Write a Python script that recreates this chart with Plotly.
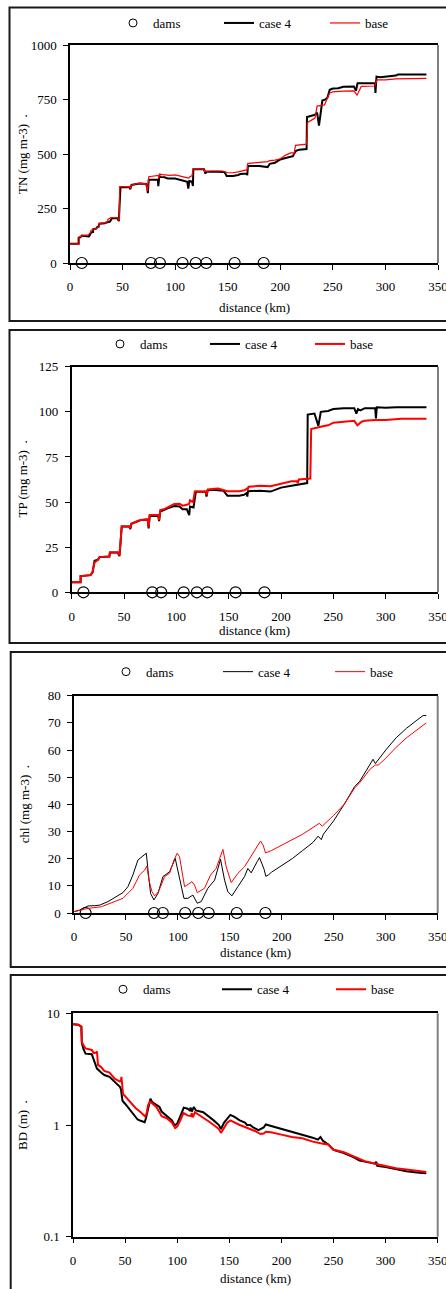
import plotly.graph_objects as go

W, H = 446, 1289
FONT = "Liberation Serif"

# ---------------- data (km, value) ----------------
dams_km = [11.2, 77, 85.5, 107, 119.6, 129.6, 156.6, 184.2]

tn_case4 = [(0,88),(8.2,88),(8.2,115),(10,118),(11,125),(17,125),(18,122),(19,130),(20,140),(22,142),(22,155),(25,158),(26,165),(27,165),(28,180),(33,182),(34,185),(38,190),(39,200),(40,205),(45,206),(46.5,192),(47,250),(48,348),(56.6,348),(57.3,338),(58.5,358),(62,360),(66,365),(72.4,363),(73.4,345),(74,320),(74.9,382),(83.5,383),(84,353),(85,400),(86,395),(90,393),(93,388),(100,388),(105,382),(108,378),(111.5,373),(112.5,341),(113.5,376),(116,373),(116.9,353),(117.3,430),(127.5,430),(128.8,410),(129.5,419),(140,419),(147,417),(149,399),(155,399),(160,404),(162,408),(168,410),(168.6,403),(169.2,445),(180,445),(188,440),(189,447),(190,455),(195,460),(200,475),(205,482),(210,490),(212,490),(213,500),(215,515),(218,520),(225,523),(225.4,670),(230,675),(233,680),(235,690),(236.8,630),(240,745),(243,750),(245,760),(247,795),(250,800),(255,802),(260,808),(270,810),(272,790),(273.5,825),(278,825),(290,825),(290.5,780),(291.5,855),(295,852),(300,855),(305,858),(310,860),(312,865),(339,865)]
tn_base = [(0,88),(8.6,88),(8.6,120),(11.4,122),(11.4,128),(17,128),(19.7,140),(20,150),(23,155),(25,160),(27.6,165),(27.6,182),(33,184),(36,190),(36,200),(39,208),(45,208),(46.8,195),(47.3,350),(56.6,350),(57.3,342),(58.5,358),(62,361),(66,366),(72.4,363),(73.8,330),(74.9,396),(80,400),(84,402),(84.5,388),(85,408),(88,405),(95,402),(100,404),(105,400),(110,393),(113,390),(114,396),(116,400),(117.2,432),(127.5,430),(128,420),(135,422),(145,422),(150,414),(155,414),(160,418),(165,425),(168.6,428),(169,456),(175,460),(180,462),(188,465),(190,470),(195,472),(200,478),(205,495),(210,505),(212,505),(213,498),(214.5,540),(220,542),(225,545),(226,645),(230,655),(233,665),(235,720),(240,722),(242,725),(247,780),(250,785),(260,788),(270,790),(273,770),(277,810),(290,812),(292,840),(300,840),(310,845),(339,847)]

tp_case4 = [(0,5.5),(8.5,5.5),(8.5,9),(18,9.5),(20,11),(21.8,17.5),(25,18),(26.6,19.5),(36,19.8),(36.5,22),(44,22),(45.6,20),(46.5,26),(47.8,36.5),(55,36.5),(56,35),(57,38),(63,39.5),(66,40),(72.6,40.4),(73.5,35.4),(74.5,42.3),(82.7,42.3),(83.5,39.5),(84.6,44.7),(88,45.5),(91.6,46.5),(98,47.8),(103,47.5),(106,46),(110,46),(112.3,42.8),(113,47.5),(116.4,47),(118.6,55.7),(128,55.7),(128.8,53),(130,56.6),(135,56.8),(145,56.3),(148.8,53.5),(160,53.5),(164.7,54),(167.3,55),(167.8,53),(168.5,56),(180,56.3),(190,55.8),(195,57),(200,58),(210,59),(220,60),(225,60.5),(225.5,98.5),(232,99),(235.7,92.2),(238,100),(245,100.5),(250,101.5),(260,102),(270,102),(272,99),(273.5,101.5),(276,100.8),(280,102),(290,102),(290.7,96.3),(291.5,102.5),(300,102.3),(310,102.5),(339,102.5)]
tp_base = [(0,5.5),(8.5,5.5),(8.5,9),(18,9.5),(20,11.5),(21.8,16.5),(25,18),(26.6,19.5),(36,19.8),(36.5,22),(44,22),(45.6,20.5),(47.8,36.5),(55,36.5),(56,35.5),(57,38),(63,39.5),(66,40),(72.6,40.4),(73.5,36),(74.5,42.8),(82.7,42.8),(83.5,40),(84.6,45.6),(88,46),(91.6,47),(98,48.9),(103,49),(106,48),(110,48.5),(112.3,49),(113,51),(116,50),(117.6,55.8),(128,55.8),(128.8,54),(130,57),(140,57.5),(148.8,56),(160,56),(165,56.5),(167.5,57.5),(168,56.5),(169,58.5),(180,59),(190,58.8),(200,60),(210,61.5),(215,61.5),(216,60.5),(217,62.5),(228,63),(228.8,90.5),(235,91.5),(240,92),(245,92.5),(250,94),(260,94.5),(270,95),(273,92.5),(277,94.5),(280,95),(290,95.5),(300,95.5),(310,96),(315,96.2),(339,96.2)]

chl_case4 = [(0,0.5),(5,1),(8.7,1.7),(13.5,2.6),(20,2.7),(24.7,2.9),(32.7,4.2),(42.3,6.6),(47.1,7.5),(51.9,9.7),(56.7,14),(61.5,19.5),(66.3,21),(69.6,22),(71.2,15.8),(73.7,7.2),(76.9,4.8),(80.8,7.2),(85.6,13.4),(92,15.2),(97.4,20.1),(101.6,12.1),(105.8,5.4),(109.6,5.4),(114.4,6.6),(118.6,3.6),(122.4,4.2),(128.8,9.1),(135.3,12.1),(141,19.8),(144.9,12.1),(148,7.9),(151.9,6.3),(157.7,9.7),(164.1,13.4),(167.3,16.4),(170.5,14.8),(176.3,18.9),(178.5,20.4),(181,18),(183,16),(184.6,13.5),(187,14),(190,15),(200,17.5),(210,20),(220,23),(230,26),(234.9,28.3),(238,27),(240,29),(250,34),(260,40),(265,43),(270,46.5),(275,48.5),(280,51.5),(285,54.5),(287.8,56.6),(290,55),(292,56),(300,60),(310,64.5),(320,68),(330,71),(336,72.7),(339,72.7)]
chl_base = [(0,0.5),(13.5,1.7),(26.3,2.3),(35.9,3.6),(47.1,5.4),(56.7,9.1),(63.1,14),(68,15.8),(70.2,17.3),(72.1,12.1),(75,7.9),(77.6,6.3),(81.4,7.9),(87.2,13.4),(92,14.6),(96.2,19.5),(99.3,22),(101.6,20.7),(106.4,9.7),(113.5,11.5),(116,10.3),(118.6,7.5),(125.6,9.1),(131.4,14),(136.8,16.4),(143.3,23.4),(146.5,17),(151.3,11.2),(157.7,14.6),(164.1,17),(169.9,20.7),(176.9,24.7),(179.5,26.5),(182,25),(184.3,22.1),(190,23),(200,25),(210,27),(220,29),(230,31.5),(235.9,33),(239,32),(245,34),(250,36),(260,40),(265,43),(270,46),(275,48),(280,50.5),(285,53),(290,54.5),(293,54.5),(300,57),(310,61),(320,64.5),(330,67.5),(339,70)]

bd_case4 = [(0,8),(5,7.9),(8,7.6),(8.5,5.4),(10,4.8),(12,4.35),(18,4.3),(20,3.8),(23,3.2),(27,2.95),(30,2.8),(35,2.7),(40,2.45),(45,2.2),(46,2.1),(47.5,1.65),(50,1.55),(55,1.35),(58,1.22),(62,1.12),(65,1.09),(68.8,1.06),(70,1.15),(73,1.5),(74.3,1.72),(76,1.6),(80,1.52),(83,1.45),(85,1.32),(90,1.2),(95,1.1),(97.5,0.99),(100,1.03),(103,1.2),(106.3,1.43),(110,1.4),(112,1.35),(113,1.43),(114,1.32),(116,1.45),(118,1.35),(125,1.3),(130,1.2),(135,1.1),(140,1.0),(142,0.92),(145,1.05),(148,1.15),(151,1.23),(155,1.18),(160,1.1),(165,1.05),(167,1.0),(170,1.0),(173,0.95),(178,0.9),(183,0.95),(185,1.01),(190,0.98),(200,0.93),(210,0.88),(220,0.82),(230,0.77),(235,0.74),(237.5,0.78),(240,0.72),(245,0.67),(250,0.6),(260,0.56),(270,0.51),(275,0.48),(280,0.47),(290,0.45),(291,0.47),(292,0.43),(300,0.42),(310,0.4),(320,0.385),(330,0.375),(339,0.37)]
bd_base = [(0,8),(5,7.9),(8,7.6),(8.5,5.5),(10,5.2),(12,4.85),(18,4.7),(20,4.4),(22,4.45),(23,4.55),(24,3.45),(27,3.3),(30,3.05),(35,2.95),(40,2.6),(45,2.45),(46,2.5),(46.5,2.7),(48,1.9),(52,1.72),(55,1.58),(60,1.42),(65,1.3),(69,1.2),(70.5,1.25),(72,1.5),(74,1.62),(76,1.55),(80,1.45),(83,1.3),(85,1.2),(90,1.15),(95,1.05),(98,0.94),(100,0.97),(103,1.1),(106,1.28),(110,1.22),(113,1.2),(114,1.28),(115,1.17),(117,1.3),(120,1.25),(125,1.15),(130,1.08),(135,1.0),(140,0.92),(142,0.85),(145,0.95),(148,1.05),(151,1.1),(155,1.05),(160,1.0),(165,0.96),(170,0.92),(175,0.88),(180,0.83),(183,0.84),(185,0.87),(190,0.86),(200,0.82),(210,0.78),(220,0.76),(230,0.71),(240,0.68),(245,0.67),(250,0.6),(260,0.57),(270,0.52),(275,0.5),(280,0.475),(290,0.45),(300,0.43),(310,0.41),(320,0.4),(330,0.39),(339,0.38)]

ytitles = ["TN (mg m-3)  .", "TP (mg m-3)  .", "chl (mg m-3)  .", "BD (m)  ."]
xtitle = "distance (km)"

# ---------------- layout geometry (pixels) ----------------
def px(x):
    return x / W
def py(y):
    return 1 - y / H

panels = [
    dict(l=70, r=438, t=45, b=263, box=(9.5, 7.5, 321), leg=(23, 113, 61), lw=(2, 1.2), yr=[0, 1000], dt=250, ytx=22, xty=308),
    dict(l=71.7, r=438, t=366.7, b=592.3, box=(9.5, 330, 643), leg=(344, 100, 60), lw=(2, 2), yr=[0, 125], dt=25, ytx=22, xty=630),
    dict(l=74, r=437.7, t=695.7, b=913, box=(10.7, 652, 967), leg=(671.7, 106, 67), lw=(1, 1), yr=[0, 80], dt=10, ytx=24, xty=952),
    dict(l=73, r=437.7, t=1013.3, b=1236.7, box=(10.7, 975, 1300), leg=(989.3, 103, 69), lw=(2, 2), yr=None, dt=None, ytx=22, xty=1278),
]
series = [(tn_case4, tn_base), (tp_case4, tp_base), (chl_case4, chl_base), (bd_case4, bd_base)]

fig = go.Figure()
shapes, annotations = [], []
lay = {}
for i, (p, (c4, bs)) in enumerate(zip(panels, series)):
    n = "" if i == 0 else str(i + 1)
    xa, ya = "x" + n, "y" + n
    lg = "legend" + n
    fig.add_trace(go.Scatter(x=[None], y=[None], mode="markers", name="dams",
                             marker=dict(symbol="circle-open", size=8, color="black", line=dict(width=1)),
                             xaxis=xa, yaxis=ya, legend=lg))
    if i < 3:
        fig.add_trace(go.Scatter(x=dams_km, y=[0] * len(dams_km), mode="markers", showlegend=False,
                                 marker=dict(symbol="circle-open", size=11, color="black", line=dict(width=1.2)),
                                 cliponaxis=False, xaxis=xa, yaxis=ya, legend=lg))
    fig.add_trace(go.Scatter(x=[a for a, b in c4], y=[b for a, b in c4], mode="lines", name="case 4",
                             line=dict(color="black", width=p["lw"][0]), xaxis=xa, yaxis=ya, legend=lg))
    fig.add_trace(go.Scatter(x=[a for a, b in bs], y=[b for a, b in bs], mode="lines", name="base",
                             line=dict(color="#ff0000", width=p["lw"][1]), xaxis=xa, yaxis=ya, legend=lg))

    axfont = dict(family=FONT, size=13, color="black")
    lay["xaxis" + n] = dict(domain=[px(p["l"]), px(p["r"])], anchor=ya, range=[0, 350], dtick=50, tick0=0,
                            ticks="outside", ticklen=5, tickwidth=1, tickcolor="black", showgrid=False,
                            zeroline=False, showline=True, linecolor="black", linewidth=1.5, mirror=True,
                            tickfont=axfont, ticklabelstandoff=6, ticklabeloverflow="allow")
    ydict = dict(domain=[py(p["b"]), py(p["t"])], anchor=xa, ticks="outside", ticklen=5, tickwidth=1,
                 tickcolor="black", showgrid=False, zeroline=False, showline=True, linecolor="black",
                 linewidth=1.5, mirror=False, tickfont=axfont, ticklabelstandoff=4, ticklabeloverflow="allow")
    if p["yr"] is None:
        ydict.update(type="log", range=[-1, 1], tickvals=[0.1, 1, 10], ticktext=["0.1", "1", "10"])
    else:
        ydict.update(range=p["yr"], dtick=p["dt"], tick0=0)
    lay["yaxis" + n] = ydict
    shapes.append(dict(type="line", xref=xa + " domain", yref=ya + " domain", x0=1, x1=1, y0=0, y1=1,
                       line=dict(color="#7f7f7f", width=2)))
    bl, bt, bb = p["box"]
    shapes.append(dict(type="rect", xref="paper", yref="paper", x0=px(bl), x1=px(470), y0=py(bb), y1=py(bt),
                       line=dict(color="#1a1a1a", width=2)))
    annotations.append(dict(text=ytitles[i], xref="paper", yref="paper", x=px(p["ytx"]),
                            y=py((p["t"] + p["b"]) / 2), textangle=-90, showarrow=False,
                            xanchor="center", yanchor="middle", font=axfont))
    annotations.append(dict(text=xtitle, xref="paper", yref="paper", x=px((p["l"] + p["r"]) / 2),
                            y=py(p["xty"]), showarrow=False, xanchor="center", yanchor="middle", font=axfont))
    ly, lx, ew = p["leg"]
    lay[lg] = dict(orientation="h", x=px(lx), xanchor="left", y=py(ly), yanchor="middle",
                   entrywidth=ew, entrywidthmode="pixels", font=dict(family=FONT, size=13, color="black"),
                   bgcolor="rgba(0,0,0,0)", traceorder="normal")

fig.update_layout(width=W, height=H, margin=dict(l=0, r=0, t=0, b=0, autoexpand=False), paper_bgcolor="white",
                  plot_bgcolor="white", shapes=shapes, annotations=annotations,
                  font=dict(family=FONT, size=13, color="black"), **lay)
fig.write_html("out.html")
